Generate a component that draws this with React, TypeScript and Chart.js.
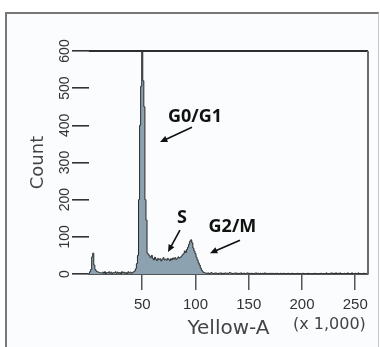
import React, { useEffect, useRef } from 'react';
import { Chart, registerables } from 'chart.js';

Chart.register(...registerables);

// Histogram counts per channel bin (Yellow-A, x 1,000), bins 0..261
const counts: number[] = [
  // 0-11
  2, 6, 12, 46, 56, 24, 12, 8, 6, 5, 4, 3,
  // 12-42
  3, 5, 2, 6, 1, 4, 3, 6, 2, 5, 1, 4, 3, 6, 2, 5, 2, 4, 1, 6, 3, 5, 2, 4, 1, 6, 3, 5, 2, 4, 6,
  // 43-55 (G0/G1 peak)
  8, 14, 28, 50, 200, 400, 505, 640, 520, 450, 200, 145, 56,
  // 56-85 (S phase)
  52, 48, 44, 50, 42, 38, 45, 40, 36, 42, 39, 41, 35, 40, 44, 38, 40, 37, 42, 39, 36, 41, 38, 43, 40, 44, 39, 42, 46, 43,
  // 86-108 (G2/M peak)
  45, 48, 52, 55, 62, 58, 66, 72, 80, 88, 92, 84, 70, 62, 55, 45, 38, 30, 24, 16, 10, 6, 4,
  // 109-261 (tail)
  3, 2, 2, 3, 1, 2, 4, 2, 1, 2, 3, 2, 1, 2, 2, 3, 1,
  2, 1, 3, 2, 2, 1, 4, 3, 2, 1, 2, 2, 3, 1, 2, 1, 2,
  3, 1, 2, 2, 1, 2, 3, 1, 2, 1, 2, 1, 1, 2, 3, 1, 2,
  1, 2, 1, 2, 1, 3, 1, 2, 1, 1, 2, 1, 2, 1, 1, 2, 1,
  2, 1, 1, 2, 1, 1, 2, 1, 0, 1, 2, 1, 1, 0, 2, 1, 1,
  0, 1, 2, 1, 0, 1, 1, 2, 0, 1, 1, 0, 2, 1, 0, 1, 1,
  0, 2, 1, 0, 1, 0, 1, 2, 0, 1, 0, 1, 3, 0, 1, 0, 2,
  3, 0, 2, 0, 3, 0, 2, 0, 3, 0, 1, 0, 2, 0, 0, 3, 0,
  1, 0, 3, 0, 0, 2, 0, 0, 3, 0, 1, 0, 0, 2, 0, 0, 1,
];

const xTicks: number[] = [50, 100, 150, 200, 250];
const yTicks: number[] = [0, 100, 200, 300, 400, 500, 600];
const xMax = 262;
const yMax = 600;

const xAxisTitle = 'Yellow-A';
const xAxisUnit = '(x 1,000)';
const yAxisTitle = 'Count';

// Phase annotations in data coordinates
const phaseLabels: string[] = ['G0/G1', 'S', 'G2/M'];
const phaseLabelX: number[] = [99.5, 87.3, 134.7];
const phaseLabelY: number[] = [423, 152, 128];
const arrowFromX: number[] = [96.7, 85.4, 141.8];
const arrowFromY: number[] = [395, 118, 91];
const arrowToX: number[] = [66.7, 74.2, 113.6];
const arrowToY: number[] = [355, 59, 56];

const decorPlugin = {
  id: 'decor',
  afterDraw(chart: any) {
    const { ctx, chartArea: a, scales } = chart;
    const xs = scales.x;
    const ys = scales.y;
    ctx.save();
    // plot frame top & right
    ctx.lineWidth = 2;
    ctx.strokeStyle = '#2e2e2e';
    ctx.beginPath();
    ctx.moveTo(a.left, a.top);
    ctx.lineTo(a.right, a.top);
    ctx.stroke();
    ctx.strokeStyle = '#6a6a6a';
    ctx.beginPath();
    ctx.moveTo(a.right, a.top);
    ctx.lineTo(a.right, a.bottom);
    ctx.stroke();

    // unit text
    ctx.fillStyle = '#444';
    ctx.font = '16px "DejaVu Sans"';
    ctx.textAlign = 'left';
    ctx.textBaseline = 'middle';
    ctx.fillText(xAxisUnit, a.right - 75, chart.height - 22);

    // annotations
    ctx.font = 'bold 18px "Open Sans"';
    ctx.textAlign = 'center';
    ctx.fillStyle = '#111';
    ctx.strokeStyle = '#111';
    phaseLabels.forEach((t, i) => {
      ctx.fillText(t, xs.getPixelForValue(phaseLabelX[i]), ys.getPixelForValue(phaseLabelY[i]));
      const x1 = xs.getPixelForValue(arrowFromX[i]);
      const y1 = ys.getPixelForValue(arrowFromY[i]);
      const x2 = xs.getPixelForValue(arrowToX[i]);
      const y2 = ys.getPixelForValue(arrowToY[i]);
      const ang = Math.atan2(y2 - y1, x2 - x1);
      const hl = 8;
      ctx.lineWidth = 1.6;
      ctx.beginPath();
      ctx.moveTo(x1, y1);
      ctx.lineTo(x2 - Math.cos(ang) * hl * 0.7, y2 - Math.sin(ang) * hl * 0.7);
      ctx.stroke();
      ctx.beginPath();
      ctx.moveTo(x2, y2);
      ctx.lineTo(x2 - hl * Math.cos(ang - 0.42), y2 - hl * Math.sin(ang - 0.42));
      ctx.lineTo(x2 - hl * Math.cos(ang + 0.42), y2 - hl * Math.sin(ang + 0.42));
      ctx.closePath();
      ctx.fill();
    });
    ctx.restore();
  },
};

export default function App() {
  const canvasRef = useRef<HTMLCanvasElement | null>(null);

  useEffect(() => {
    if (!canvasRef.current) return;
    const points = counts.map((c, i) => ({ x: i, y: c }));
    const chart = new Chart(canvasRef.current, {
      type: 'line',
      data: {
        datasets: [
          {
            data: points,
            stepped: 'middle',
            fill: 'origin',
            backgroundColor: '#8ca2b0',
            borderColor: '#2a2a2a',
            borderWidth: 1,
            pointRadius: 0,
          },
        ],
      },
      options: {
        animation: false,
        responsive: false,
        devicePixelRatio: 1,
        layout: { padding: { left: 0, top: 51, right: 12, bottom: 0 } },
        plugins: { legend: { display: false }, tooltip: { enabled: false } },
        scales: {
          x: {
            type: 'linear',
            position: 'bottom',
            min: 0,
            max: xMax,
            afterBuildTicks: (s: any) => {
              s.ticks = xTicks.map((v) => ({ value: v }));
            },
            afterFit: (s: any) => {
              s.height = 73;
            },
            grid: { drawOnChartArea: false, drawTicks: true, tickLength: 16, color: '#555', lineWidth: 1.5 },
            border: { display: true, color: '#555', width: 2 },
            ticks: {
              font: { family: 'Liberation Sans', size: 15 },
              color: '#333',
              padding: 6,
              maxRotation: 0,
              minRotation: 0,
              autoSkip: false,
            },
            title: {
              display: true,
              text: xAxisTitle,
              font: { family: 'DejaVu Sans', size: 20 },
              color: '#444',
              padding: { top: 0, bottom: 6 },
            },
          },
          y: {
            type: 'linear',
            min: 0,
            max: yMax,
            afterBuildTicks: (s: any) => {
              s.ticks = yTicks.map((v) => ({ value: v }));
            },
            afterFit: (s: any) => {
              s.width = 89;
            },
            grid: { drawOnChartArea: false, drawTicks: true, tickLength: 17, color: '#333', lineWidth: 1.6 },
            border: { display: false },
            ticks: {
              font: { family: 'Liberation Sans', size: 14 },
              color: '#333',
              padding: -5,
              minRotation: 90,
              maxRotation: 90,
              crossAlign: 'center',
              autoSkip: false,
            },
            title: {
              display: true,
              text: yAxisTitle,
              font: { family: 'DejaVu Sans', size: 18 },
              color: '#444',
              padding: { top: 28, bottom: 0 },
            },
          },
        },
      },
      plugins: [decorPlugin],
    } as any);
    return () => chart.destroy();
  }, []);

  return (
    <div style={{ position: 'fixed', left: 0, top: 0, width: 380, height: 347, overflow: 'hidden', background: '#fff' }}>
      <div
        style={{
          position: 'absolute',
          left: 5,
          top: 12,
          width: 371,
          height: 360,
          borderLeft: '2px solid #777',
          borderTop: '2px solid #777',
          borderRight: '1px solid #c8c8c8',
          background: '#fbfcfd',
        }}
      />
      <canvas ref={canvasRef} width={380} height={347} style={{ position: 'absolute', left: 0, top: 0 }} />
    </div>
  );
}
